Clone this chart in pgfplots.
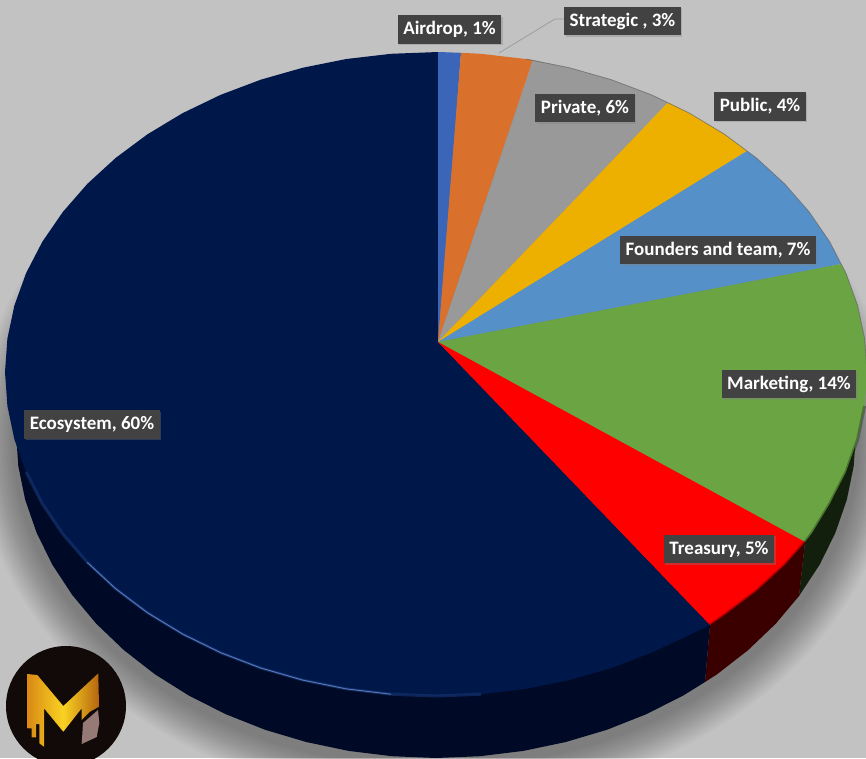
\documentclass[border=0pt]{standalone}
\usepackage{fontspec}
\setmainfont{Carlito}
\usepackage{pgfplots}
\pgfplotsset{compat=1.18}
\usetikzlibrary{shadows}

\definecolor{bggray}{HTML}{C2C2C2}
\definecolor{cnavy}{HTML}{00174A}
\definecolor{cair}{HTML}{3A65B8}
\definecolor{cstrat}{HTML}{D9702B}
\definecolor{cpriv}{HTML}{999999}
\definecolor{cpub}{HTML}{EEB000}
\definecolor{cfound}{HTML}{5590C8}
\definecolor{cmark}{HTML}{6AA443}
\definecolor{ctreas}{HTML}{FE0000}
\definecolor{sidenavy}{HTML}{000A26}
\definecolor{sidered}{HTML}{3A0000}
\definecolor{sidegreen}{HTML}{121F0C}
\definecolor{boxgray}{HTML}{424242}
\definecolor{logobg}{HTML}{120A08}
\definecolor{logopale}{HTML}{967A76}
\definecolor{goldlo}{HTML}{D98A14}
\definecolor{goldmid}{HTML}{F9D222}
\definecolor{goldhi}{HTML}{B5650F}

\tikzset{lab/.style={fill=boxgray,text=white,font=\fontsize{19}{22}\selectfont\bfseries,
  inner xsep=5.5pt,inner ysep=0pt,minimum height=28.5pt,
  drop shadow={shadow xshift=1.5pt,shadow yshift=-1.5pt,opacity=.35}}}

\begin{document}
\begin{tikzpicture}
\begin{axis}[
    scale only axis,
    width=866pt,
    height=758pt,
    xmin=0, xmax=866,
    ymin=0, ymax=758,
    y dir=reverse,
    hide axis,
]

% background and soft shadow under the pie
\fill[bggray] (axis cs:0,0) rectangle (axis cs:866,758);
\pgfplotsinvokeforeach{40,38,36,34,32,30,28,26,24,22,20,18,16,14,12,10,8,6,4}{
  \fill[black,opacity=.018] (axis cs:436,438) ellipse [x radius=420+#1, y radius=326+#1];
}

% -------- side of the pie --------
\addplot[draw=none,fill=sidegreen] coordinates {
  (805,542) (799,596) (819.7,564.6) (835.4,532.7) (846.8,499.8) (853.7,466.1) (856,432) (867,372) (700,372)
};
\addplot[draw=none,fill=sidered] coordinates {
  (805,542) (799,596) (775.8,623.6) (748.1,650.1) (717,674.3) (705,682) (710,625)
};
\addplot[draw=none,fill=sidenavy] coordinates {
  (710,625) (705,682) (682.9,695.7) (646,714.3) (606.8,729.8) (565.8,742) (523.3,750.9) (479.9,756.2) (436,758)
  (392.1,756.2) (348.7,750.9) (306.2,742) (265.2,729.8) (226,714.3) (189.1,695.7) (155,674.3) (123.9,650.1)
  (96.2,623.6) (72.3,595) (52.3,564.6) (36.6,532.7) (25.2,499.8) (18.3,466.1) (16,432) (5,372) (438,342)
};

% -------- top face --------
% Ecosystem 60
\addplot[draw=none,fill=cnavy] coordinates {
  (438,342) (710,625) (689.3,635) (651.5,652.6) (611.3,668) (569.2,680.1) (525.6,688.9) (481,694.2) (436,696)
  (391,694.2) (346.4,688.9) (302.8,680.1) (260.7,668) (220.5,652.6) (182.7,634.1) (147.6,612.8) (115.7,588.8)
  (87.3,562.4) (62.8,534) (42.3,503.8) (26.1,472.1) (14.4,439.4) (7.4,405.9) (5,372) (7.4,338.6) (14.4,305.5)
  (26.1,273.1) (42.3,241.8) (62.8,212) (87.3,183.9) (115.7,157.9) (147.6,134.2) (182.7,113.1) (220.5,94.9)
  (260.7,79.7) (302.8,67.7) (346.4,59) (391,53.8) (438,52)
};
% Airdrop 1
\addplot[draw=none,fill=cair] coordinates {(438,342) (438,52) (461,52.8)};
% Strategic 3
\addplot[draw=none,fill=cstrat] coordinates {(438,342) (461,52.8) (481,53.8) (525.6,59) (533,60)};
% Private 6
\addplot[draw=none,fill=cpriv] coordinates {(438,342) (533,60) (569.2,67.7) (611.3,79.7) (651.5,94.9) (668,102.5)};
% Public 4
\addplot[draw=none,fill=cpub] coordinates {(438,342) (668,102.5) (689.3,113.1) (724.4,134.2) (747,151)};
% Founders and team 7
\addplot[draw=none,fill=cfound] coordinates {(438,342) (747,151) (756.3,157.9) (784.7,183.9) (809.2,212) (829.7,241.8) (841,264)};
% Marketing 14
\addplot[draw=none,fill=cmark] coordinates {
  (438,342) (841,264) (845.9,273.1) (857.6,305.5) (864.6,338.6) (867,372) (864.6,405.9) (857.6,439.4) (845.9,472.1)
  (829.7,503.8) (812,533) (805,542)
};
% Treasury 5
\addplot[draw=none,fill=ctreas] coordinates {
  (438,342) (805,542) (784.7,565) (756.3,591) (724.4,615) (710,625)
};

% rim lines
\addplot[line width=.8pt,color=black!60,opacity=.7] coordinates {
  (525.6,59) (569.2,67.7) (611.3,79.7) (651.5,94.9) (689.3,113.1) (724.4,134.2) (756.3,157.9) (784.7,183.9)
  (809.2,212) (829.7,241.8) (845.9,273.1) (857.6,305.5) (864.6,338.6) (867,372)
};
% soft top edge of the side, right part
\addplot[line width=3pt,color=sidered,opacity=.35] coordinates {(805,542) (784.7,565) (756.3,591) (724.4,615) (710,625)};
\addplot[line width=3pt,color=sidegreen,opacity=.35] coordinates {
  (864.6,405.9) (857.6,439.4) (845.9,472.1) (829.7,503.8) (812,533) (805,542)
};
% highlight along the lower left rim
\addplot[line width=3pt,color=cair!45!cnavy,opacity=.55] coordinates {
  (481,694.2) (436,696) (391,694.2) (346.4,688.9) (302.8,680.1) (260.7,668) (220.5,652.6) (182.7,634.1) (147.6,612.8)
  (115.7,588.8) (87.3,562.4) (62.8,534) (42.3,503.8) (26.1,472.1)
};
\addplot[line width=1pt,color=cair!80!white,opacity=.85] coordinates {
  (391,694.2) (346.4,688.9) (302.8,680.1) (260.7,668) (220.5,652.6) (182.7,634.1) (147.6,612.8) (115.7,588.8) (87.3,562.4)
};

% leader line of Strategic
\addplot[line width=.7pt,color=black!40] coordinates {(499,53) (555,19) (565,19)};

% -------- labels --------
\node[lab] at (axis cs:449.5,29.5) {Airdrop, 1\%};
\node[lab] at (axis cs:622.5,21) {Strategic , 3\%};
\node[lab] at (axis cs:585,108) {Private, 6\%};
\node[lab] at (axis cs:760,106.5) {Public, 4\%};
\node[lab] at (axis cs:718,250) {Founders and team, 7\%};
\node[lab] at (axis cs:789,384) {Marketing, 14\%};
\node[lab] at (axis cs:719,549) {Treasury, 5\%};
\node[lab] at (axis cs:92,424.5) {Ecosystem, 60\%};

% -------- logo --------
\fill[logobg] (axis cs:66,706) circle [radius=60];
\fill[left color=goldlo,right color=goldhi,middle color=goldmid]
  (axis cs:27.3,674) -- (axis cs:37.3,675) -- (axis cs:63.3,706) -- (axis cs:98.3,673.3) -- (axis cs:99,706.7)
  -- (axis cs:90,711.7) -- (axis cs:81.7,720) -- (axis cs:81.7,708.3) -- (axis cs:63.3,731.7) -- (axis cs:44,708.3)
  -- (axis cs:44,746.7) -- (axis cs:39.3,743.3) -- (axis cs:39.3,724) -- (axis cs:36,724) -- (axis cs:36,737.3)
  -- (axis cs:31.7,737.3) -- (axis cs:31.7,728.3) -- (axis cs:27.3,728.3) -- cycle;
\fill[logopale]
  (axis cs:83,723) -- (axis cs:98,710) -- (axis cs:99.3,723) -- (axis cs:96.7,737) -- (axis cs:81.7,744) -- cycle;

\end{axis}
\end{tikzpicture}
\end{document}
